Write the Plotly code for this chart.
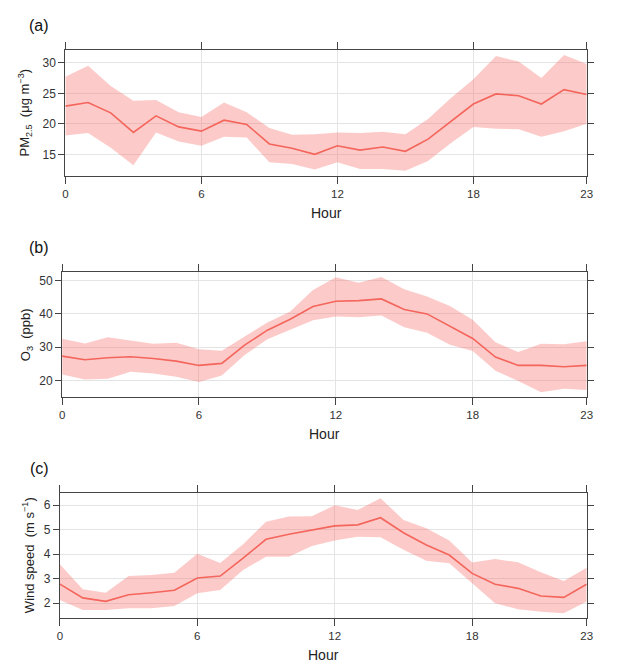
import plotly.graph_objects as go

hours = list(range(24))
x_ticks = [0, 6, 12, 18, 23]

pm25_mean = [22.9, 23.5, 21.8, 18.6, 21.3, 19.5, 18.8, 20.6, 19.9, 16.7, 16.0, 15.0,
             16.4, 15.7, 16.2, 15.5, 17.5, 20.4, 23.25, 24.9, 24.6, 23.25, 25.6, 24.8]
pm25_upper = [27.7, 29.5, 26.2, 23.8, 23.9, 21.9, 21.1, 23.5, 21.9, 19.3, 18.2, 18.3,
              18.6, 18.5, 18.7, 18.3, 20.8, 24.2, 27.3, 31.1, 30.2, 27.5, 31.3, 29.8]
pm25_lower = [18.1, 18.5, 16.1, 13.2, 18.6, 17.1, 16.4, 17.9, 17.75, 13.7, 13.4, 12.5,
              13.7, 12.6, 12.6, 12.3, 13.9, 16.8, 19.5, 19.2, 19.1, 17.9, 18.8, 20.0]

o3_mean = [27.3, 26.2, 26.8, 27.1, 26.6, 25.8, 24.5, 25.1, 30.6, 35.1, 38.4, 42.2,
           43.8, 44.0, 44.5, 41.3, 40.0, 36.4, 32.6, 27.0, 24.5, 24.5, 24.1, 24.5]
o3_upper = [32.5, 31.1, 33.0, 31.9, 31.0, 31.3, 29.4, 28.9, 33.1, 37.4, 40.7, 47.2,
            51.0, 49.4, 51.1, 47.4, 45.2, 42.4, 38.2, 31.5, 28.5, 31.0, 30.9, 31.8]
o3_lower = [21.8, 20.3, 20.5, 22.6, 22.1, 21.1, 19.5, 21.5, 27.6, 32.4, 35.2, 38.1,
            39.2, 39.0, 39.5, 36.0, 34.3, 30.7, 28.8, 22.9, 19.8, 16.4, 17.5, 17.1]

ws_mean = [2.78, 2.22, 2.08, 2.35, 2.43, 2.53, 3.03, 3.11, 3.84, 4.61, 4.82, 4.98,
           5.16, 5.20, 5.49, 4.88, 4.38, 3.97, 3.22, 2.78, 2.61, 2.30, 2.24, 2.78]
ws_upper = [3.59, 2.57, 2.43, 3.11, 3.15, 3.25, 4.02, 3.64, 4.41, 5.33, 5.54, 5.55,
            6.00, 5.81, 6.29, 5.40, 5.06, 4.56, 3.66, 3.81, 3.67, 3.27, 2.91, 3.45]
ws_lower = [2.13, 1.73, 1.73, 1.80, 1.80, 1.89, 2.41, 2.54, 3.36, 3.90, 3.90, 4.34,
            4.56, 4.72, 4.69, 4.18, 3.74, 3.63, 2.82, 2.00, 1.76, 1.66, 1.59, 2.07]

# the page margin is removed in post_script, so the figure fills the window
FW, FH = 620, 668


def px_x(X):
    return X / FW


def px_y(Y):
    return 1 - Y / FH


panels = [
    dict(mean=pm25_mean, upper=pm25_upper, lower=pm25_lower, yrange=[11.5, 32.1],
         ticks=[15, 20, 25, 30], label="(a)",
         title="PM<sub>2.5</sub>  (μg m<sup>−3</sup>)",
         left=63.3, top=50, bottom=175.7,
         label_y=25, title_x=22, hour_y=213),
    dict(mean=o3_mean, upper=o3_upper, lower=o3_lower, yrange=[15.0, 52.6],
         ticks=[20, 30, 40, 50], label="(b)",
         title="O<sub>3</sub>  (ppb)",
         left=60.0, top=272, bottom=397,
         label_y=247, title_x=24, hour_y=434),
    dict(mean=ws_mean, upper=ws_upper, lower=ws_lower, yrange=[1.4, 6.5],
         ticks=[2, 3, 4, 5, 6], label="(c)",
         title="Wind speed  (m s<sup>−1</sup>)",
         left=57.7, top=493, bottom=618,
         label_y=468, title_x=25, hour_y=655),
]
RIGHT = 592.3

FONT = "Liberation Sans, Arial, sans-serif"
LINE_COLOR = "#f4655c"
FILL_COLOR = "rgba(248,110,104,0.36)"
AXIS_COLOR = "#444444"
GRID_COLOR = "#e4e4e4"

fig = go.Figure()
annotations = []
layout = {}

for i, p in enumerate(panels, start=1):
    xa = "x" if i == 1 else f"x{i}"
    ya = "y" if i == 1 else f"y{i}"
    fig.add_trace(go.Scatter(
        x=hours + hours[::-1], y=p["upper"] + p["lower"][::-1],
        fill="toself", fillcolor=FILL_COLOR, line=dict(width=0),
        mode="lines", hoverinfo="skip", showlegend=False, xaxis=xa, yaxis=ya))
    fig.add_trace(go.Scatter(
        x=hours, y=p["mean"], mode="lines",
        line=dict(color=LINE_COLOR, width=1.6),
        showlegend=False, xaxis=xa, yaxis=ya))

    xdom = [px_x(p["left"]), px_x(RIGHT)]
    ydom = [px_y(p["bottom"]), px_y(p["top"])]
    xkey = "xaxis" if i == 1 else f"xaxis{i}"
    ykey = "yaxis" if i == 1 else f"yaxis{i}"
    layout[xkey] = dict(
        domain=xdom, anchor=ya, range=[0, 23],
        tickvals=x_ticks, ticktext=[str(v) for v in x_ticks],
        ticks="outside", ticklen=7, tickcolor=AXIS_COLOR, tickwidth=1,
        showline=True, linecolor=AXIS_COLOR, linewidth=1, mirror="allticks",
        showgrid=True, gridcolor=GRID_COLOR, gridwidth=1, zeroline=False,
        tickfont=dict(size=11.5, color="#333333", family=FONT))
    layout[ykey] = dict(
        domain=ydom, anchor=xa, range=p["yrange"],
        tickvals=p["ticks"],
        ticks="outside", ticklen=6, tickcolor=AXIS_COLOR, tickwidth=1,
        showline=True, linecolor=AXIS_COLOR, linewidth=1, mirror="allticks",
        showgrid=True, gridcolor=GRID_COLOR, gridwidth=1, zeroline=False,
        tickfont=dict(size=12, color="#333333", family=FONT))

    xc = (xdom[0] + xdom[1]) / 2
    yc = (ydom[0] + ydom[1]) / 2
    annotations.append(dict(text=p["label"], xref="paper", yref="paper",
                            x=px_x(37), y=px_y(p["label_y"]),
                            xanchor="center", yanchor="middle", showarrow=False,
                            font=dict(size=16, color="#111111", family=FONT)))
    annotations.append(dict(text="Hour", xref="paper", yref="paper",
                            x=xc, y=px_y(p["hour_y"]),
                            xanchor="center", yanchor="middle", showarrow=False,
                            font=dict(size=14, color="#222222", family=FONT)))
    annotations.append(dict(text=p["title"], xref="paper", yref="paper",
                            x=px_x(p["title_x"]), y=yc, textangle=-90,
                            xanchor="center", yanchor="middle", showarrow=False,
                            font=dict(size=13, color="#222222", family=FONT)))

fig.update_layout(
    width=FW, height=FH,
    margin=dict(l=0, r=0, t=0, b=0),
    paper_bgcolor="white", plot_bgcolor="white",
    annotations=annotations,
    **layout)

fig.write_html(
    "out.html",
    config={"displayModeBar": False},
    post_script="document.body.style.margin='0';"
                "document.documentElement.style.overflow='hidden';"
                "document.body.style.overflow='hidden';")
